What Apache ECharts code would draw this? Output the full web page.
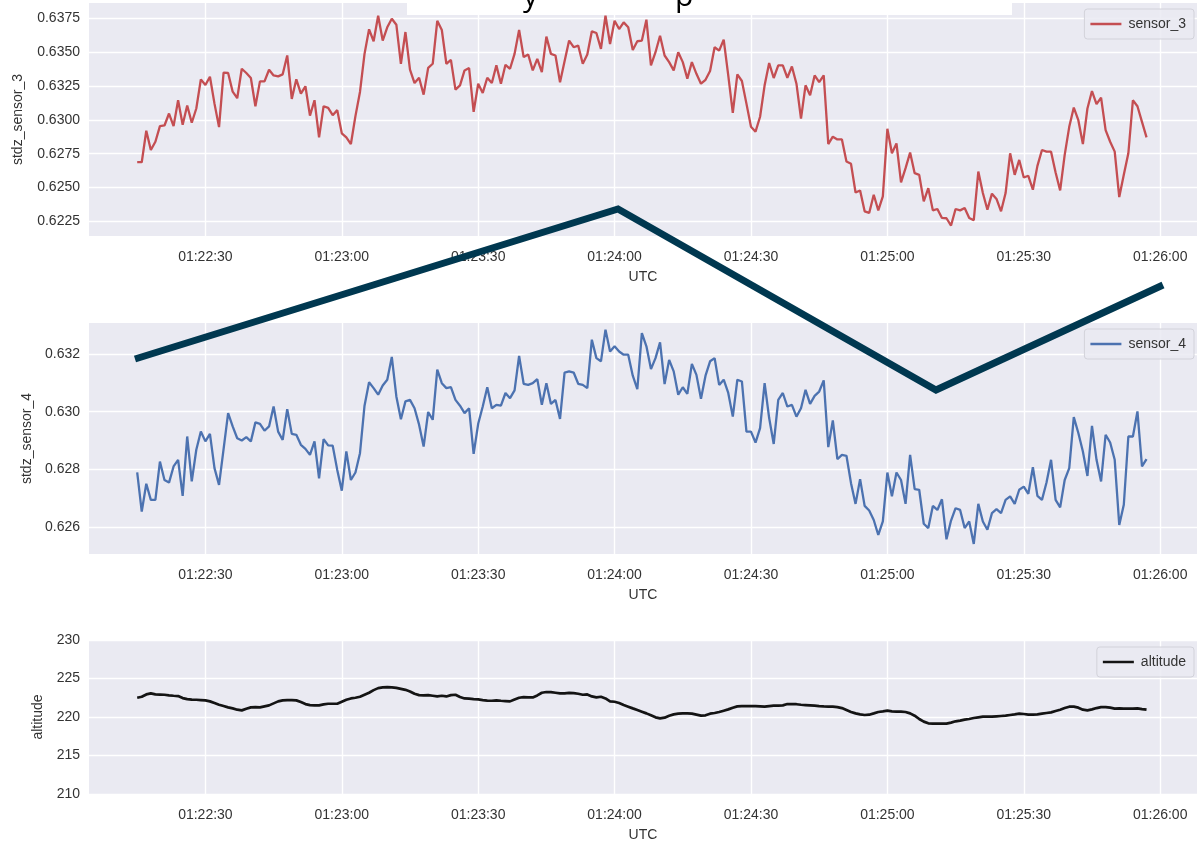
<!DOCTYPE html>
<html>
<head>
<meta charset="utf-8">
<script src="https://cdn.jsdelivr.net/npm/echarts@6/dist/echarts.min.js"></script>
<style>
html,body{margin:0;padding:0;background:#fff;}
#chart{width:1197px;height:845px;}
</style>
</head>
<body>
<div id="chart"></div>
<script>
// ---------- data ----------
const startTime = '01:22:15';   // first sample, 1 sample per second
const xTickLabels = ['01:22:30','01:23:00','01:23:30','01:24:00','01:24:30','01:25:00','01:25:30','01:26:00'];
const sensor3Ticks = [0.6225,0.6250,0.6275,0.6300,0.6325,0.6350,0.6375];
const sensor4Ticks = [0.626,0.628,0.630,0.632];
const altitudeTicks = [210,215,220,225,230];

const sensor3 = [
0.62687,0.62687,0.62919,0.62777,0.62838,0.62953,0.62958,0.63046,0.62953,0.63144,
0.62963,0.63105,0.62978,0.63083,0.63298,0.63256,0.63317,0.63119,0.62946,0.63347,
0.63345,0.63207,0.63159,0.63376,0.63345,0.63308,0.63100,0.63283,0.63283,0.63369,
0.63327,0.63320,0.63335,0.63474,0.63154,0.63298,0.63193,0.63247,0.63031,0.63144,
0.62870,0.63100,0.63088,0.63034,0.63071,0.62900,0.62870,0.62821,0.63027,0.63205,
0.63486,0.63667,0.63579,0.63767,0.63584,0.63682,0.63745,0.63701,0.63413,0.63647,
0.63369,0.63271,0.63310,0.63185,0.63383,0.63413,0.63730,0.63662,0.63413,0.63442,
0.63222,0.63254,0.63364,0.63381,0.63058,0.63266,0.63198,0.63310,0.63271,0.63401,
0.63266,0.63405,0.63376,0.63486,0.63662,0.63462,0.63481,0.63364,0.63449,0.63352,
0.63613,0.63486,0.63474,0.63276,0.63432,0.63584,0.63535,0.63547,0.63413,0.63481,
0.63652,0.63640,0.63523,0.63767,0.63559,0.63730,0.63669,0.63718,0.63682,0.63515,
0.63579,0.63584,0.63738,0.63401,0.63498,0.63620,0.63474,0.63425,0.63364,0.63498,
0.63425,0.63303,0.63425,0.63339,0.63266,0.63295,0.63359,0.63535,0.63510,0.63591,
0.63327,0.63051,0.63335,0.63286,0.63119,0.62948,0.62912,0.63022,0.63254,0.63418,
0.63308,0.63401,0.63401,0.63310,0.63393,0.63266,0.63009,0.63254,0.63181,0.63327,
0.63278,0.63327,0.62821,0.62875,0.62855,0.62855,0.62692,0.62675,0.62464,0.62479,
0.62325,0.62313,0.62447,0.62332,0.62435,0.62934,0.62753,0.62826,0.62538,0.62643,
0.62758,0.62606,0.62594,0.62398,0.62496,0.62332,0.62342,0.62276,0.62274,0.62220,
0.62342,0.62332,0.62350,0.62276,0.62259,0.62618,0.62460,0.62337,0.62455,0.62416,
0.62325,0.62460,0.62753,0.62594,0.62704,0.62574,0.62587,0.62484,0.62660,0.62777,
0.62765,0.62765,0.62611,0.62479,0.62741,0.62948,0.63090,0.62997,0.62821,0.63083,
0.63212,0.63115,0.63163,0.62924,0.62838,0.62765,0.62430,0.62594,0.62753,0.63144,
0.63100,0.62985,0.62870
];

const sensor4 = [
0.62789,0.62653,0.62750,0.62694,0.62694,0.62827,0.62763,0.62754,0.62810,0.62833,
0.62708,0.62914,0.62758,0.62868,0.62931,0.62897,0.62923,0.62804,0.62746,0.62870,
0.62995,0.62949,0.62908,0.62900,0.62912,0.62897,0.62963,0.62958,0.62934,0.62949,
0.63018,0.62931,0.62902,0.63009,0.62923,0.62920,0.62885,0.62871,0.62850,0.62897,
0.62769,0.62905,0.62883,0.62882,0.62798,0.62726,0.62862,0.62763,0.62789,0.62856,
0.63021,0.63102,0.63082,0.63059,0.63091,0.63111,0.63190,0.63053,0.62974,0.63036,
0.63041,0.63012,0.62955,0.62879,0.62999,0.62972,0.63146,0.63099,0.63082,0.63085,
0.63041,0.63021,0.62995,0.63012,0.62854,0.62958,0.63018,0.63085,0.63012,0.63024,
0.63021,0.63065,0.63047,0.63074,0.63194,0.63097,0.63093,0.63099,0.63113,0.63024,
0.63099,0.63027,0.63041,0.62975,0.63136,0.63140,0.63136,0.63097,0.63093,0.63082,
0.63250,0.63186,0.63175,0.63285,0.63209,0.63227,0.63209,0.63198,0.63198,0.63125,
0.63078,0.63273,0.63227,0.63148,0.63186,0.63241,0.63096,0.63180,0.63140,0.63059,
0.63085,0.63062,0.63166,0.63128,0.63045,0.63125,0.63175,0.63186,0.63093,0.63111,
0.63065,0.62983,0.63111,0.63105,0.62931,0.62931,0.62893,0.62943,0.63099,0.62978,
0.62888,0.63041,0.63065,0.63018,0.63024,0.62983,0.63012,0.63076,0.63027,0.63055,
0.63070,0.63109,0.62877,0.62970,0.62835,0.62850,0.62847,0.62752,0.62680,0.62766,
0.62673,0.62657,0.62624,0.62572,0.62619,0.62789,0.62706,0.62789,0.62763,0.62680,
0.62850,0.62731,0.62729,0.62611,0.62596,0.62673,0.62659,0.62696,0.62557,0.62622,
0.62665,0.62659,0.62596,0.62619,0.62541,0.62680,0.62619,0.62590,0.62648,0.62662,
0.62648,0.62694,0.62706,0.62680,0.62729,0.62740,0.62715,0.62807,0.62708,0.62694,
0.62754,0.62833,0.62694,0.62668,0.62763,0.62804,0.62981,0.62926,0.62862,0.62777,
0.62951,0.62833,0.62758,0.62920,0.62893,0.62833,0.62607,0.62677,0.62914,0.62914,
0.63001,0.62810,0.62835
];

const altitude = [
222.50,222.63,222.93,223.06,222.93,222.91,222.89,222.82,222.76,222.72,
222.46,222.33,222.26,222.24,222.20,222.16,222.03,221.81,221.59,221.42,
221.25,221.12,220.95,220.86,221.08,221.25,221.29,221.25,221.38,221.51,
221.77,222.03,222.16,222.20,222.20,222.16,221.94,221.68,221.55,221.51,
221.51,221.64,221.72,221.72,221.72,221.98,222.24,222.41,222.50,222.63,
222.89,223.15,223.49,223.75,223.84,223.88,223.84,223.79,223.66,223.53,
223.32,223.02,222.84,222.80,222.84,222.76,222.67,222.76,222.67,222.84,
222.89,222.59,222.41,222.39,222.33,222.28,222.20,222.13,222.11,222.16,
222.11,222.07,222.03,222.28,222.50,222.59,222.56,222.54,222.80,223.15,
223.25,223.23,223.15,223.06,223.06,223.13,223.10,223.02,222.89,222.93,
222.67,222.54,222.63,222.41,222.03,221.98,221.81,221.55,221.34,221.12,
220.91,220.69,220.47,220.22,219.96,219.83,219.91,220.17,220.34,220.43,
220.47,220.47,220.43,220.30,220.17,220.22,220.43,220.52,220.65,220.82,
220.99,221.21,221.38,221.42,221.42,221.42,221.42,221.38,221.34,221.42,
221.47,221.47,221.51,221.68,221.68,221.66,221.59,221.55,221.51,221.47,
221.42,221.38,221.36,221.34,221.29,221.16,220.91,220.65,220.47,220.34,
220.26,220.30,220.47,220.65,220.73,220.82,220.73,220.69,220.69,220.65,
220.47,220.17,219.74,219.40,219.18,219.14,219.14,219.14,219.14,219.27,
219.44,219.53,219.66,219.74,219.87,219.96,220.04,220.04,220.04,220.09,
220.13,220.17,220.26,220.34,220.43,220.39,220.30,220.30,220.34,220.43,
220.52,220.60,220.78,220.95,221.16,221.34,221.34,221.21,220.95,220.86,
220.99,221.16,221.29,221.29,221.21,221.08,221.12,221.10,221.08,221.08,
221.12,221.03,220.95
];

// ---------- helpers ----------
function toSec(s){const p=s.split(':').map(Number);return p[0]*3600+p[1]*60+p[2];}
function fmtTime(v){
  const s=Math.round(v);const h=Math.floor(s/3600),m=Math.floor((s%3600)/60),ss=s%60;
  const z=n=>(n<10?'0':'')+n;return z(h)+':'+z(m)+':'+z(ss);
}
const t0 = toSec(startTime);
const pairs = arr => arr.map((v,i)=>[t0+i, v]);
const xTickVals = xTickLabels.map(toSec);
const xMin = xTickVals[0] - 25.6;
const xMax = xTickVals[xTickVals.length-1] + 8.1;

const FONT = 'Liberation Sans, Arial, sans-serif';
const TXT = '#333333';
const BG = '#EAEAF2';

function xAxis(gi){
  return {
    type:'value', gridIndex:gi, min:xMin, max:xMax,
    name:'UTC', nameLocation:'middle', nameGap:34,
    nameTextStyle:{fontFamily:FONT,fontSize:14,color:TXT},
    axisLine:{show:false},
    axisTick:{show:false, customValues:xTickVals},
    axisLabel:{customValues:xTickVals, formatter:fmtTime, margin:14,
      fontFamily:FONT,fontSize:14,color:TXT},
    splitLine:{show:true,lineStyle:{color:'#ffffff',width:1.4}}
  };
}
function yAxis(gi,name,min,max,ticks,dec,gap){
  return {
    type:'value', gridIndex:gi, min:min, max:max,
    name:name, nameLocation:'middle', nameGap:gap, nameRotate:90,
    nameTextStyle:{fontFamily:FONT,fontSize:14,color:TXT},
    axisLine:{show:false},
    axisTick:{show:false, customValues:ticks},
    axisLabel:{customValues:ticks, formatter:v=>v.toFixed(dec), margin:9,
      fontFamily:FONT,fontSize:14,color:TXT},
    splitLine:{show:true,lineStyle:{color:'#ffffff',width:1.4}}
  };
}
function legend(name,top){
  return {
    data:[name], right:3, top:top, orient:'horizontal',
    icon:'rect', itemWidth:31, itemHeight:2.5, itemGap:10,
    padding:[8,8,8,6],
    backgroundColor:'rgba(234,234,242,0.85)', borderColor:'#d2d2da', borderWidth:1, borderRadius:3,
    textStyle:{fontFamily:FONT,fontSize:14,color:TXT,padding:[0,0,0,2]}
  };
}

const chart = echarts.init(document.getElementById('chart'), null, {renderer:'canvas'});
const gridBase = {left:89, right:-6, show:true, backgroundColor:BG, borderWidth:0, containLabel:false};
chart.setOption({
  animation:false,
  backgroundColor:'#ffffff',
  grid:[
    Object.assign({top:3, height:233}, gridBase),
    Object.assign({top:323, height:231}, gridBase),
    Object.assign({top:640, height:154}, gridBase)
  ],
  xAxis:[xAxis(0), xAxis(1), xAxis(2)],
  yAxis:[
    yAxis(0,'stdz_sensor_3',0.62143,0.63861,sensor3Ticks,4,64),
    yAxis(1,'stdz_sensor_4',0.62506,0.63308,sensor4Ticks,3,55),
    yAxis(2,'altitude',210,230,altitudeTicks,0,44)
  ],
  legend:[legend('sensor_3',9), legend('sensor_4',329), legend('altitude',647)],
  series:[
    {name:'sensor_3', type:'line', xAxisIndex:0, yAxisIndex:0, data:pairs(sensor3),
     symbol:'none', lineStyle:{color:'#C44E52',width:2.3}, itemStyle:{color:'#C44E52'}},
    {name:'sensor_4', type:'line', xAxisIndex:1, yAxisIndex:1, data:pairs(sensor4),
     symbol:'none', lineStyle:{color:'#4C72B0',width:2.3}, itemStyle:{color:'#4C72B0'}},
    {name:'altitude', type:'line', xAxisIndex:2, yAxisIndex:2, data:pairs(altitude),
     symbol:'none', lineStyle:{color:'#141414',width:2.7}, itemStyle:{color:'#141414'}}
  ],
  graphic:[
    {type:'rect', z:100, shape:{x:407,y:0,width:605,height:15}, style:{fill:'#ffffff'}},
    {type:'text', z:101, x:523, y:-3, style:{text:'y', font:'30px "Open Sans", sans-serif', fill:'#000', verticalAlign:'middle'}},
    {type:'text', z:101, x:675, y:-3, style:{text:'p', font:'30px "Open Sans", sans-serif', fill:'#000', verticalAlign:'middle'}},
    {type:'polyline', z:102, shape:{points:[[135,359],[618,209],[936,390],[1163,285]]},
     style:{stroke:'#003850', lineWidth:7, fill:null, lineJoin:'miter', lineCap:'butt'}}
  ]
});
</script>
</body>
</html>
